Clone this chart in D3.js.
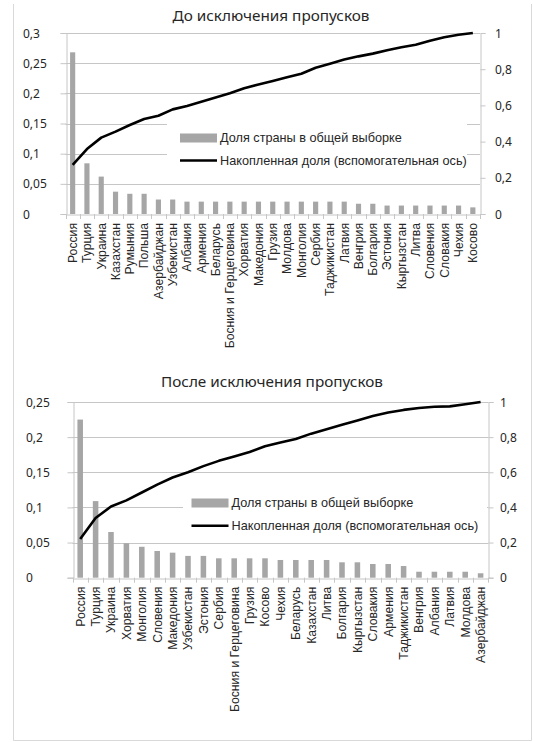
<!DOCTYPE html>
<html><head><meta charset="utf-8">
<script src="https://cdn.jsdelivr.net/npm/d3@7"></script>
<style>body{margin:0;background:#fff}svg{display:block}</style>
</head><body><svg id="c" width="533" height="742"></svg>
<script>
// ---------- data ----------
const titleTop = "До исключения пропусков";
const categoriesTop = ["Россия","Турция","Украина","Казахстан","Румыния","Польша","Азербайджан","Узбекистан","Албания","Армения","Беларусь","Босния и Герцеговина","Хорватия","Македония","Грузия","Молдова","Монголия","Сербия","Таджикистан","Латвия","Венгрия","Болгария","Эстония","Кыргызстан","Литва","Словения","Словакия","Чехия","Косово"];
const shareTop = [0.268,0.084,0.062,0.037,0.0335,0.0335,0.024,0.024,0.0205,0.0205,0.0205,0.0205,0.0205,0.0205,0.0205,0.0205,0.0205,0.0205,0.0205,0.0205,0.017,0.017,0.014,0.014,0.014,0.014,0.014,0.014,0.011];
const cumulativeTop = [0.271,0.359,0.422,0.455,0.492,0.525,0.543,0.578,0.597,0.620,0.643,0.667,0.695,0.715,0.735,0.755,0.775,0.808,0.830,0.853,0.871,0.886,0.905,0.921,0.935,0.957,0.976,0.990,1.0];
const leftTicksTop = [0,0.05,0.1,0.15,0.2,0.25,0.3];

const titleBottom = "После исключения пропусков";
const categoriesBottom = ["Россия","Турция","Украина","Хорватия","Монголия","Словения","Македония","Узбекистан","Эстония","Сербия","Босния и Герцеговина","Грузия","Косово","Чехия","Беларусь","Казахстан","Литва","Болгария","Кыргызстан","Словакия","Армения","Таджикистан","Венгрия","Албания","Латвия","Молдова","Азербайджан"];
const shareBottom = [0.225,0.109,0.065,0.049,0.044,0.038,0.0356,0.031,0.031,0.0276,0.0276,0.0276,0.0276,0.0252,0.0252,0.0252,0.0252,0.0219,0.0219,0.0195,0.0195,0.0166,0.0085,0.0085,0.0085,0.0085,0.0063];
const cumulativeBottom = [0.22,0.34,0.405,0.44,0.485,0.53,0.57,0.60,0.635,0.665,0.69,0.715,0.748,0.77,0.79,0.82,0.845,0.87,0.895,0.92,0.94,0.955,0.966,0.973,0.975,0.987,1.0];
const leftTicksBottom = [0,0.05,0.1,0.15,0.2,0.25];

const rightTicks = [0,0.2,0.4,0.6,0.8,1];
const legendLabels = ["Доля страны в общей выборке","Накопленная доля (вспомогательная ось)"];

// ---------- layout ----------
const svg = d3.select("#c");
const GRID = "#c6c6c6", BAR = "#a6a6a6", TXT = "#262626";
const fmt = v => String(v).replace(".", ",");

// outer frame
svg.append("path").attr("d","M13.5,4 V740.5 H531.5 V4").attr("fill","none").attr("stroke","#d9d9d9");

function drawChart(o){
  const g = svg.append("g");
  const x = d3.scaleBand().domain(o.cats).range([o.x0,o.x1]).paddingInner(o.pad).paddingOuter(o.pad/2);
  const xb = d3.scaleBand().domain(o.cats).range([o.x0,o.x1]);
  const yL = d3.scaleLinear().domain([0,o.lmax]).range([o.y1,o.y0]);
  const yR = d3.scaleLinear().domain([0,1]).range([o.y1,o.y0]);

  // title
  g.append("text").attr("x",o.titleX).attr("y",o.titleY).attr("text-anchor","middle")
    .attr("font-family","'Noto Sans',sans-serif").attr("font-size",15.3).attr("fill",TXT).text(o.title);

  // gridlines
  g.append("g").selectAll("line").data(o.lticks.filter(d=>d>0)).join("line")
    .attr("x1",o.x0).attr("x2",o.x1).attr("y1",d=>Math.round(yL(d))+0.5).attr("y2",d=>Math.round(yL(d))+0.5)
    .attr("stroke",GRID);

  // left axis
  const la = g.append("g").attr("transform",`translate(${Math.round(o.x0)+0.5},0)`)
    .call(d3.axisLeft(yL).tickValues(o.lticks).tickSize(6).tickFormat(""));
  la.selectAll("path,line").attr("stroke",GRID);
  g.append("g").selectAll("text").data(o.lticks).join("text")
    .attr("x",o.lLabelX).attr("y",d=>yL(d)+4.5).attr("font-family","'Noto Sans',sans-serif")
    .attr("font-size",12).attr("fill",TXT).text(fmt);

  // right axis
  const ra = g.append("g").attr("transform",`translate(${Math.round(o.x1)+0.5},0)`)
    .call(d3.axisRight(yR).tickValues(rightTicks).tickSize(5).tickFormat(""));
  ra.selectAll("path,line").attr("stroke",GRID);
  g.append("g").selectAll("text").data(rightTicks).join("text")
    .attr("x",o.rLabelX).attr("y",d=>yR(d)+4.5).attr("font-family","'Noto Sans',sans-serif")
    .attr("font-size",12).attr("fill",TXT).text(fmt);

  // bars
  g.append("g").selectAll("rect").data(o.share).join("rect")
    .attr("x",(d,i)=>x(o.cats[i])).attr("width",x.bandwidth())
    .attr("y",d=>yL(d)).attr("height",d=>yL(0)-yL(d)).attr("fill",BAR);

  // bottom axis
  const ba = g.append("g").attr("transform",`translate(0,${Math.round(o.y1)+0.5})`)
    .call(d3.axisBottom(xb).tickSize(0).tickFormat(""));
  ba.selectAll("path").attr("stroke",GRID);
  g.append("g").selectAll("line").data(d3.range(o.cats.length+1)).join("line")
    .attr("x1",i=>Math.round(o.x0+i*xb.step())+0.5).attr("x2",i=>Math.round(o.x0+i*xb.step())+0.5)
    .attr("y1",o.y1).attr("y2",o.y1+5).attr("stroke",GRID);
  g.append("g").selectAll("text").data(o.cats).join("text")
    .attr("transform",d=>`translate(${xb(d)+xb.bandwidth()/2+4.3},${o.y1+9}) rotate(-90)`)
    .attr("text-anchor","end").attr("font-family","'Liberation Sans',Arial,sans-serif")
    .attr("font-size",12.2).attr("fill",TXT).text(d=>d);

  // legend (white box behind the line)
  const L = o.legend;
  g.append("rect").attr("x",L.x).attr("y",L.y).attr("width",L.w).attr("height",L.h).attr("fill","#fff");
  g.append("rect").attr("x",L.sx).attr("y",L.r1-4.5).attr("width",37).attr("height",9).attr("fill",BAR);
  g.append("line").attr("x1",L.sx).attr("x2",L.sx+37).attr("y1",L.r2).attr("y2",L.r2)
    .attr("stroke","#000").attr("stroke-width",2.6);
  g.append("g").selectAll("text").data(legendLabels).join("text")
    .attr("x",L.sx+40).attr("y",(d,i)=>(i?L.r2:L.r1)+4.3)
    .attr("font-family","'Liberation Sans',Arial,sans-serif").attr("font-size",12.7).attr("fill",TXT).text(d=>d);

  // line
  g.append("path").datum(o.cum)
    .attr("d",d3.line().x((d,i)=>xb(o.cats[i])+xb.bandwidth()/2).y(d=>yR(d)))
    .attr("fill","none").attr("stroke","#000").attr("stroke-width",2.6).attr("stroke-linejoin","round");
}

drawChart({cats:categoriesTop, share:shareTop, cum:cumulativeTop, lticks:leftTicksTop, lmax:0.3,
  title:titleTop, titleX:271, titleY:21, x0:65.5, x1:480, y0:33, y1:214, pad:0.64,
  lLabelX:23, rLabelX:495,
  legend:{x:167,y:116,w:300,h:60,sx:180,r1:138,r2:160.5}});

drawChart({cats:categoriesBottom, share:shareBottom, cum:cumulativeBottom, lticks:leftTicksBottom, lmax:0.25,
  title:titleBottom, titleX:272, titleY:387, x0:72.5, x1:488.3, y0:402, y1:577.7, pad:0.64,
  lLabelX:26, rLabelX:500,
  legend:{x:183,y:490,w:304,h:48,sx:191.5,r1:503,r2:525.7}});
</script></body></html>
